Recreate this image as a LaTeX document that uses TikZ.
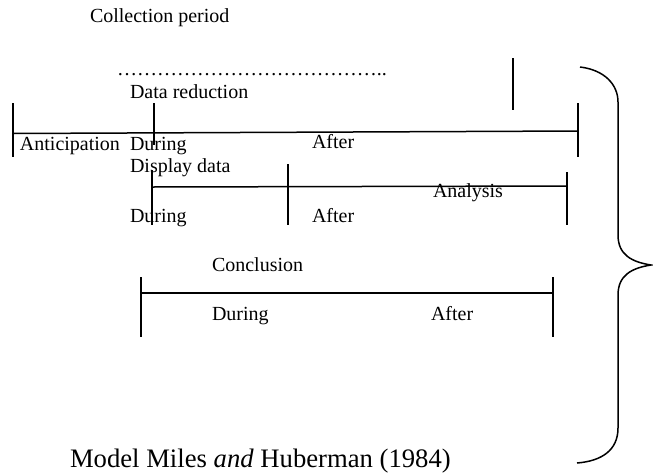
\documentclass[tikz,border=0pt]{standalone}
\usepackage{fontspec}
\setmainfont{Liberation Serif}
\begin{document}
\begin{tikzpicture}[x=0.6pt,y=-0.6pt,
  lbl/.style={anchor=base west,inner sep=0pt,outer sep=0pt,font=\fontsize{12}{14}\selectfont},
  captiontext/.style={anchor=base west,inner sep=0pt,outer sep=0pt,font=\fontsize{16}{19}\selectfont},
  rule/.style={line width=0.9pt,line cap=butt}]
\useasboundingbox (0,0) rectangle (653,475);
% texts
\node[lbl] (collection) at (90,22) {Collection period};
\node[lbl] (dots) at (117,75) {…………………………………..};
\node[lbl] (reduction) at (130,98) {Data reduction};
\node[lbl] (anticipation) at (20,150) {Anticipation};
\node[lbl] (during1) at (130,150) {During};
\node[lbl] (after1) at (312,148) {After};
\node[lbl] (display) at (130,172) {Display data};
\node[lbl] (analysis) at (433,197) {Analysis};
\node[lbl] (during2) at (130,222) {During};
\node[lbl] (after2) at (312,222) {After};
\node[lbl] (conclusion) at (212,271) {Conclusion};
\node[lbl] (during3) at (212,320) {During};
\node[lbl] (after3) at (431,320) {After};
\node[captiontext] (caption) at (70,467) {Model Miles \textit{and} Huberman (1984)};
% row 1
\draw[rule] (13,133.5) -- (578,131);
\draw[rule] (13,103) -- (13,157);
\draw[rule] (154,103) -- (154,145);
\draw[rule] (578,103) -- (578,157);
\draw[rule] (513,58) -- (513,110);
% row 2
\draw[rule] (152,187) -- (567,186);
\draw[rule] (152,170) -- (152,225);
\draw[rule] (288,164) -- (288,225);
\draw[rule] (567,172) -- (567,225);
% row 3
\draw[rule] (141,293) -- (553,293);
\draw[rule] (141,277) -- (141,337);
\draw[rule] (553,277) -- (553,337);
% brace
\draw[rule] (580,67) .. controls (605,70) and (618,85) .. (618,102)
  -- (618,235) .. controls (618,255) and (632,262) .. (651,265)
  .. controls (632,268) and (618,275) .. (618,295)
  -- (618,428) .. controls (618,450) and (602,461) .. (577,463);
\end{tikzpicture}
\end{document}
